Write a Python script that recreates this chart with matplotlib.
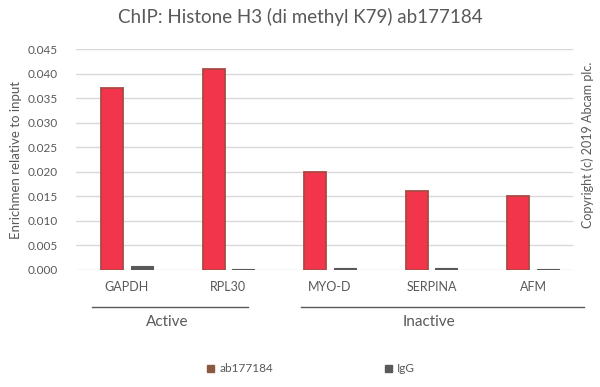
import numpy as np
import matplotlib
matplotlib.use("Agg")
import matplotlib.pyplot as plt
from matplotlib.patches import Patch
from matplotlib.lines import Line2D

# data
genes = ["GAPDH", "RPL30", "MYO-D", "SERPINA", "AFM"]
ab177184 = [0.037, 0.041, 0.020, 0.016, 0.015]
igg = [0.0009, 0.0003, 0.0005, 0.0005, 0.0003]
groups = ["Active", "Inactive"]
group_spans = [(0, 1), (2, 4)]
yticks = [0.000, 0.005, 0.010, 0.015, 0.020, 0.025, 0.030, 0.035, 0.040, 0.045]

TEXT = "#595959"
RED = "#f2354a"
EDGE = "#a94a44"
GRAY = "#595959"

plt.rcParams["font.family"] = ["Lato", "DejaVu Sans"]

fig = plt.figure(figsize=(6.0, 3.87), dpi=100)
ax = fig.add_axes([76 / 600, 1 - 270 / 387, 508 / 600, 221 / 387])

x = np.arange(len(genes))
w = 0.217
off = 0.146

for yv in yticks:
    ax.axhline(yv, xmin=0, xmax=0.977, color="#d9d9d9", lw=1.0, zorder=0)

ax.bar(x - off, ab177184, width=w, color=RED, edgecolor=EDGE, linewidth=1.3, zorder=2)
ax.bar(x + off, igg, width=w, color=GRAY, edgecolor=GRAY, linewidth=0.8, zorder=2)

ax.set_xlim(-0.5, len(genes) - 0.5)
ax.set_ylim(0, 0.045)
ax.set_yticks(yticks)
ax.set_yticklabels([f"{v:.3f}" for v in yticks], fontsize=8.5, color=TEXT)
ax.set_xticks(x)
ax.set_xticklabels(genes, fontsize=9, color=TEXT)
ax.tick_params(length=0, pad=8)
ax.tick_params(axis="y", pad=13)
for s in ax.spines.values():
    s.set_visible(False)

ax.set_ylabel("Enrichmen relative to input", fontsize=9.5, color=TEXT, labelpad=4)

# group brackets below the category labels
bracket_px = [(92, 248), (301, 584)]
label_px = [167, 429]
for name, (x0, x1), lx in zip(groups, bracket_px, label_px):
    fig.add_artist(Line2D([x0 / 600, x1 / 600], [1 - 307 / 387] * 2,
                          color=TEXT, lw=1.0))
    fig.text(lx / 600, 1 - 322 / 387, name, ha="center", va="center",
             fontsize=11, color=TEXT)

fig.text(0.5, 1 - 17 / 387, "ChIP: Histone H3 (di methyl K79) ab177184",
         ha="center", va="center", fontsize=13.5, color=TEXT)

fig.text(588 / 600, 1 - 145 / 387, "Copyright (c) 2019 Abcam plc.",
         rotation=90, ha="center", va="center", fontsize=9, color=TEXT)

handles = [Patch(facecolor="#8a5a40", edgecolor="#8a5a40"),
           Patch(facecolor=GRAY, edgecolor=GRAY)]
fig.legend(handles, ["ab177184", "IgG"], loc="center",
           bbox_to_anchor=(311 / 600, 1 - 369 / 387), ncol=2, frameon=False,
           fontsize=8.5, handlelength=0.6, handleheight=0.6, handletextpad=0.4,
           columnspacing=9.5, labelcolor=TEXT)

fig.savefig("out.png", dpi=100, facecolor="white")
